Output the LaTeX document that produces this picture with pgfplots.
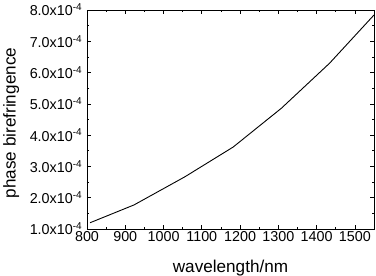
\documentclass[border=0pt]{standalone}
\usepackage{pgfplots}
\pgfplotsset{compat=1.18}
\usetikzlibrary{calc}
\usepackage{fontspec}
\setmainfont{Liberation Sans}
\begin{document}
\begin{tikzpicture}
\begin{axis}[
  scale only axis,
  width=287bp, height=219bp,
  xmin=800, xmax=1550,
  ymin=1e-4, ymax=8e-4,
  scaled y ticks=false,
  scaled x ticks=false,
  xtick={800,900,1000,1100,1200,1300,1400,1500},
  xticklabels={800,900,1000,1100,1200,1300,1400,1500},
  ytick={1e-4,2e-4,3e-4,4e-4,5e-4,6e-4,7e-4,8e-4},
  yticklabels={1.0x10\textsuperscript{-4},2.0x10\textsuperscript{-4},3.0x10\textsuperscript{-4},4.0x10\textsuperscript{-4},5.0x10\textsuperscript{-4},6.0x10\textsuperscript{-4},7.0x10\textsuperscript{-4},8.0x10\textsuperscript{-4}},
  minor x tick num=1,
  minor y tick num=1,
  tick align=inside,
  major tick length=4bp,
  minor tick length=2bp,
  axis line style={line width=0.9bp},
  every tick/.style={black, line width=0.7bp},
  xticklabel style={font=\fontsize{14.4}{16}\selectfont, inner sep=0pt, yshift=-2.7bp},
  yticklabel style={font=\fontsize{14.4}{16}\selectfont, inner sep=0pt, xshift=-4.6bp},
  xlabel={wavelength/nm},
  ylabel={phase birefringence},
  xlabel style={font=\fontsize{17.2}{19}\selectfont, inner sep=0pt, at={(axis description cs:0.5,-0.14)}, anchor=north},
  ylabel style={font=\fontsize{17.2}{19}\selectfont, inner sep=0pt, at={(axis description cs:-0.2927,0.484)}, anchor=north, rotate=0},
  clip=true,
]
\addplot[black, line width=0.9bp] coordinates {
  (808,1.20e-4)
  (923,1.77e-4)
  (1056,2.67e-4)
  (1182,3.62e-4)
  (1308,4.86e-4)
  (1434,6.30e-4)
  (1550,7.84e-4)
};
\coordinate (sw) at (rel axis cs:0,0);
\end{axis}
\pgfresetboundingbox
\useasboundingbox ($(sw)+(-87bp,-47bp)$) rectangle ++(376bp,276bp);
\end{tikzpicture}
\end{document}
